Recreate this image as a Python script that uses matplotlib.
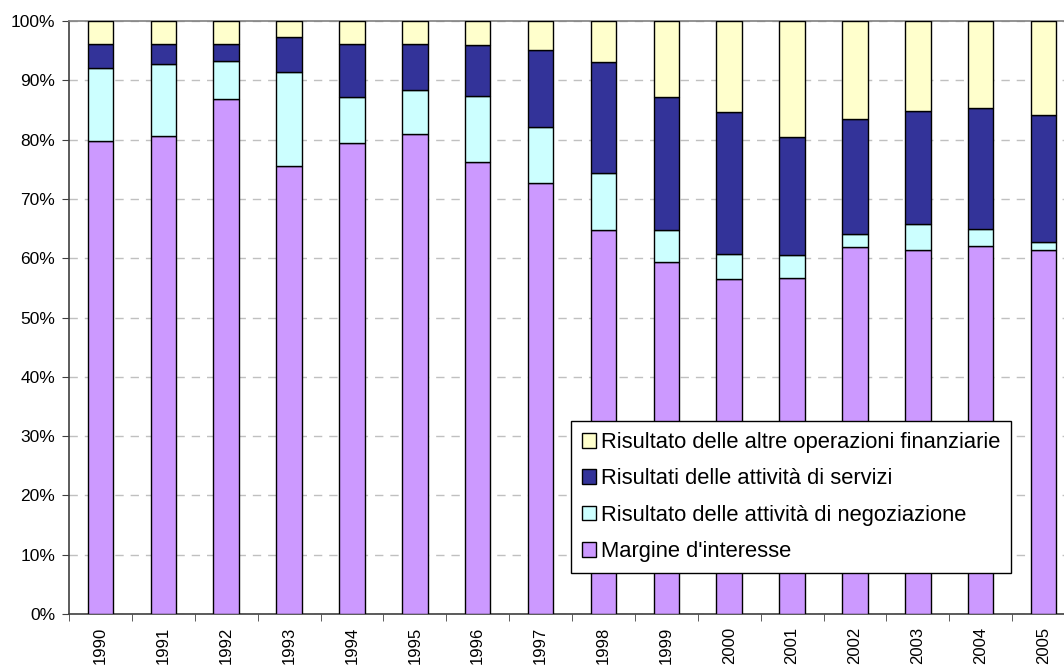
import numpy as np
import matplotlib.pyplot as plt
from matplotlib.ticker import FixedLocator, PercentFormatter

plt.rcParams['font.family'] = ['Liberation Sans', 'DejaVu Sans']

# Dati (% sul margine di intermediazione)
anni = ['1990', '1991', '1992', '1993', '1994', '1995', '1996', '1997',
        '1998', '1999', '2000', '2001', '2002', '2003', '2004', '2005']
margine = [79.8, 80.6, 86.8, 75.5, 79.4, 80.9, 76.2, 72.7,
           64.8, 59.3, 56.5, 56.7, 61.9, 61.4, 62.1, 61.3]
negoziazione = [12.2, 12.1, 6.5, 15.9, 7.8, 7.4, 11.2, 9.5,
                9.6, 5.5, 4.2, 3.8, 2.2, 4.4, 2.9, 1.5]
servizi = [4.2, 3.5, 2.8, 5.9, 9.0, 7.9, 8.6, 12.9,
           18.7, 22.3, 23.9, 19.9, 19.3, 19.1, 20.3, 21.4]
altre = [3.8, 3.8, 3.9, 2.7, 3.8, 3.8, 4.0, 4.9,
         6.9, 12.9, 15.4, 19.6, 16.6, 15.1, 14.7, 15.8]

serie = [
    ("Margine d'interesse", margine, '#CC99FF'),
    ("Risultato delle attività di negoziazione", negoziazione, '#CCFFFF'),
    ("Risultati delle attività di servizi", servizi, '#333399'),
    ("Risultato delle altre operazioni finanziarie", altre, '#FFFFCC'),
]

W, H = 1064, 668
fig = plt.figure(figsize=(W / 100, H / 100), dpi=100)
ax = fig.add_axes([69 / W, (H - 614) / H, 1006 / W, 593 / H])

x = np.arange(len(anni))
base = np.zeros(len(anni))
for nome, val, col in serie:
    val = np.array(val)
    ax.bar(x, val, width=0.405, bottom=base, color=col, edgecolor='black',
           linewidth=1.0, label=nome, zorder=3)
    base += val

ax.set_xlim(-0.5, len(anni) - 0.5)
ax.set_ylim(0, 100)
ax.yaxis.set_major_locator(FixedLocator(np.arange(0, 101, 10)))
ax.yaxis.set_major_formatter(PercentFormatter(decimals=0))
ax.grid(axis='y', color='#c0c0c0', linestyle=(0, (6, 5)), linewidth=1.0, zorder=0)

ax.set_xticks(x)
ax.set_xticklabels(anni, rotation=90, fontsize=12)
ax.set_xticks(np.arange(-0.5, len(anni)), minor=True)
ax.tick_params(axis='x', which='major', length=0, pad=9)
ax.tick_params(axis='x', which='minor', length=5, color='#404040')
ax.tick_params(axis='y', length=5, color='#404040', labelsize=12.5, pad=5)

for s in ['left', 'bottom', 'top']:
    ax.spines[s].set_color('#808080')
    ax.spines[s].set_linewidth(1.2)
ax.spines['left'].set_color('#404040')
ax.spines['bottom'].set_color('#404040')
ax.spines['right'].set_visible(False)

h, l = ax.get_legend_handles_labels()
leg = ax.legend(h[::-1], l[::-1], loc='upper left',
                bbox_to_anchor=((571 - 69) / 1006, (614 - 421) / 593),
                fontsize=15.8, frameon=True, fancybox=False, shadow=False,
                framealpha=1, handlelength=0.65, handleheight=0.65,
                handletextpad=0.2, labelspacing=0.7, borderpad=0.5,
                borderaxespad=0)
leg.get_frame().set_edgecolor('black')
leg.get_frame().set_linewidth(1.0)
leg.set_zorder(5)

fig.savefig('out.png', dpi=100)
